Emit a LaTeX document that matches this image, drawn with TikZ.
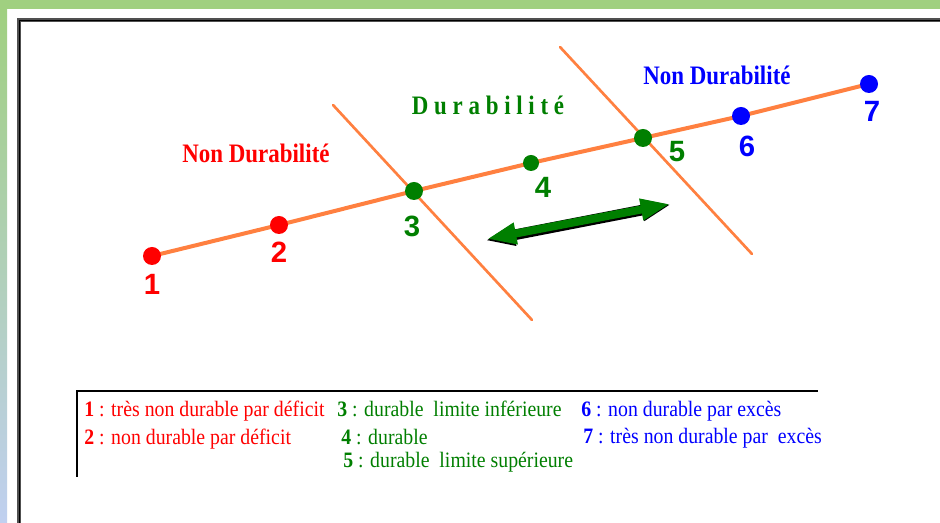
\documentclass[tikz,border=0pt]{standalone}
\usepackage{fontspec}
\setmainfont{Liberation Serif}
\newfontfamily\headfont[FakeStretch=0.86]{Liberation Serif}
\newfontfamily\numfont{Liberation Sans}
\newfontfamily\legfont[FakeStretch=0.9]{Liberation Serif}
\usepackage{xcolor}
\usetikzlibrary{arrows.meta,positioning,calc}
\definecolor{bandgreen}{HTML}{A0D080}
\definecolor{bandblue}{HTML}{C0D0F0}
\definecolor{lineorange}{HTML}{FF8040}
\definecolor{ptred}{HTML}{FF0000}
\definecolor{ptgreen}{HTML}{007F00}
\definecolor{ptblue}{HTML}{0000FF}
\definecolor{framegray}{HTML}{505050}
\tikzset{
  axisline/.style={lineorange,line width=3pt,line cap=round},
  limitline/.style={lineorange,line width=2pt,line cap=round},
  dot/.style={circle,fill=#1,draw=none,inner sep=0pt,minimum size=13.5pt},
  numlabel/.style={text=#1,anchor=base,inner sep=0pt,
                   font=\numfont\bfseries\fontsize{22}{22}\selectfont},
  zonelabel/.style={text=#1,anchor=base,inner sep=0pt,
                    font=\headfont\bfseries\fontsize{20}{20}\selectfont},
  legtext/.style={text=#1,anchor=base west,inner sep=0pt,
                  font=\legfont\fontsize{16.5}{16.5}\selectfont},
  legendrule/.style={black,line width=1.8pt},
  dblarrow/.style={line width=#1,
                   {Triangle[length=22pt,width=15pt]}-{Triangle[length=22pt,width=15pt]}}
}

\begin{document}
\begin{tikzpicture}[x=0.75pt,y=-0.75pt]
  \useasboundingbox (0,0) rectangle (940,523);
  % page border
  \fill[white] (0,0) rectangle (940,523);
  \fill[bandgreen] (0,0) rectangle (940,9);
  \shade[top color=bandgreen,bottom color=bandblue] (0,9) rectangle (7,523);
  \draw[framegray,line width=2.6pt] (19,523) -- (19,20) -- (940,20);
  \draw[black,line width=1.2pt] (19.5,523) -- (19.5,20.5) -- (940,20.5);

  % points on the axis
  \coordinate (p1) at (152,256);
  \coordinate (p2) at (279,225);
  \coordinate (p3) at (414,191);
  \coordinate (p4) at (531,163);
  \coordinate (p5) at (643,138);
  \coordinate (p6) at (741,116);
  \coordinate (p7) at (869,84);

  % limits of the durable zone
  \coordinate (lowA) at (333,105);
  \coordinate (lowB) at (532,320);
  \coordinate (upA) at (560,47);
  \coordinate (upB) at (752,254);
  \draw[limitline] (lowA) -- (lowB);
  \draw[limitline] (upA) -- (upB);

  \draw[axisline] (p1) -- (p2) -- (p3) -- (p4) -- (p5) -- (p6) -- (p7);

  \node[dot=ptred] (d1) at (p1) {};
  \node[dot=ptred] (d2) at (p2) {};
  \node[dot=ptgreen] (d3) at (p3) {};
  \node[dot=ptgreen,minimum size=12pt] (d4) at (p4) {};
  \node[dot=ptgreen] (d5) at (p5) {};
  \node[dot=ptblue] (d6) at (p6) {};
  \node[dot=ptblue] (d7) at (p7) {};

  \node[numlabel=ptred] (n1) at (152,295) {1};
  \node[numlabel=ptred] (n2) at (279,263) {2};
  \node[numlabel=ptgreen] (n3) at (412,237) {3};
  \node[numlabel=ptgreen] (n4) at (543,198) {4};
  \node[numlabel=ptgreen] (n5) at (677,162) {5};
  \node[numlabel=ptblue] (n6) at (747,157) {6};
  \node[numlabel=ptblue] (n7) at (872,122) {7};

  % zones
  \node[zonelabel=ptred] (zleft) at (256,163) {Non Durabilité};
  \node[zonelabel=ptgreen] (zmid) at (488,115) {D u r a b i l i t é};
  \node[zonelabel=ptblue] (zright) at (717,85) {Non Durabilité};

  % double arrow
  \coordinate (arrL) at (487,239);
  \coordinate (arrR) at (670,204);
  \draw[black,dblarrow=8pt] ($(arrL)+(-1.5,1.5)$) -- ($(arrR)+(1,0.5)$);
  \draw[ptgreen,dblarrow=6pt] (arrL) -- (arrR);

  % legend
  \draw[legendrule] (77,477) -- (77,391) -- (818,391);
  \node[legtext=ptred] (leg1) at (84,417) {\textbf{1} : très non durable par déficit};
  \node[legtext=ptred] (leg2) at (84,445) {\textbf{2} : non durable par déficit};
  \node[legtext=ptgreen] (leg3) at (337,417) {\textbf{3} : durable~ limite inférieure};
  \node[legtext=ptgreen] (leg4) at (341,445) {\textbf{4} : durable};
  \node[legtext=ptgreen] (leg5) at (343,468) {\textbf{5} : durable~ limite supérieure};
  \node[legtext=ptblue] (leg6) at (581,417) {\textbf{6} : non durable par excès};
  \node[legtext=ptblue] (leg7) at (583,444) {\textbf{7} : très non durable par~ excès};
\end{tikzpicture}
\end{document}
